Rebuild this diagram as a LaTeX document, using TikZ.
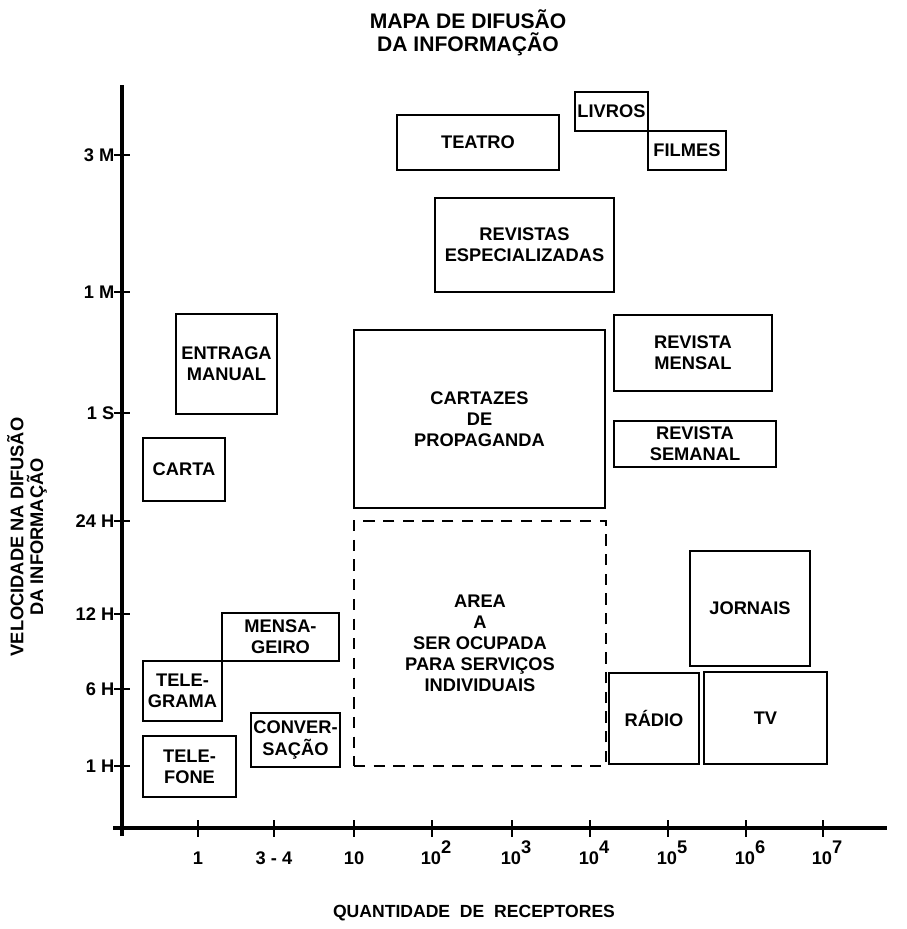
\documentclass[tikz,border=0pt]{standalone}
\usepackage{fontspec}
\setmainfont{Liberation Sans}
\usepackage{tikz}
\usetikzlibrary{positioning}

\begin{document}
\begin{tikzpicture}[
          x=0.025cm, y=-0.025cm,
          medium/.style={draw, line width=1.8pt, inner sep=0pt, align=center,
                         font=\fontsize{13}{15}\selectfont\bfseries},
          sized/.style 2 args={minimum width=#1*0.025cm, minimum height=#2*0.025cm},
          reserved/.style={medium, dash pattern=on 8pt off 6pt},
          axis/.style={line width=2.4pt},
          tickmark/.style={line width=1.8pt},
          ticklab/.style={font=\fontsize{13}{14}\selectfont\bfseries}
        ]
        \useasboundingbox (0,0) rectangle (907,929);

        \node[font=\fontsize{15}{16.5}\selectfont\bfseries, align=center] (title) at (468,33)
              {MAPA DE DIFUSÃO\\DA INFORMAÇÃO};

        % axes
        \coordinate (ytop) at (122,85);
        \coordinate (ybot) at (122,836);
        \coordinate (xbeg) at (113,828);
        \coordinate (xend) at (887,828);
        \draw[axis] (ybot) -- (ytop);
        \draw[axis] (xbeg) -- (xend);

        % speed ticks
        \foreach \y/\lab in {155/3 M, 292/1 M, 413/1 S, 521/24 H,
                             614/12 H, 689/6 H, 766/1 H}{
          \draw[tickmark] (114,\y) -- (130,\y);
          \node[ticklab, anchor=east, inner sep=1pt] (ylab\y) at (116,\y) {\lab};
        }

        % audience ticks
        \foreach \x/\lab in {198/1, 274/3 - 4, 354/10}{
          \draw[tickmark] (\x,820) -- (\x,837);
          \node[ticklab, anchor=base] (xlab\x) at (\x,864) {\lab};
        }
        \foreach \x/\p in {432/2, 512/3, 590/4, 668/5, 746/6, 823/7}{
          \draw[tickmark] (\x,820) -- (\x,837);
          \node[ticklab, anchor=base] (xlab\x) at (\x+4,864)
                {10\raisebox{1.1ex}{\p}};
        }

        \node[ticklab, rotate=90, align=center] (ylabel) at (27,537)
              {VELOCIDADE NA DIFUSÃO\\DA INFORMAÇÃO};
        \node[ticklab, font=\fontsize{12.5}{14}\selectfont\bfseries] (xlabel) at (474,913)
              {QUANTIDADE\ \ DE\ \ RECEPTORES};

        % media
        \node[medium, sized={162}{55}] (teatro) at (478,142.5) {TEATRO};
        \node[medium, sized={73}{39}] (livros) at (611.5,111.5) {LIVROS};
        \node[medium, sized={78}{39}] (filmes) at (687,150.5) {FILMES};
        \node[medium, sized={179}{94}] (especial) at (524.5,245)
              {REVISTAS\\ESPECIALIZADAS};
        \node[medium, sized={101}{100}] (entrega) at (226.5,364) {ENTRAGA\\MANUAL};
        \node[medium, sized={82}{63}] (carta) at (184,469.5) {CARTA};
        \node[medium, sized={251}{178}] (cartazes) at (479.5,419)
              {CARTAZES\\DE\\PROPAGANDA};
        \node[medium, sized={158}{76}] (mensal) at (693,353) {REVISTA\\MENSAL};
        \node[medium, sized={162}{46}] (semanal) at (695,444) {REVISTA\\SEMANAL};
        \node[reserved, sized={252}{245}] (area) at (480,643.5)
              {AREA\\A\\SER OCUPADA\\PARA SERVIÇOS\\INDIVIDUAIS};
        \node[medium, sized={120}{115}] (jornais) at (750,608.5) {JORNAIS};
        \node[medium, sized={90}{91}] (radio) at (654,718.5) {RÁDIO};
        \node[medium, sized={123}{92}] (tv) at (765.5,718) {TV};
        \node[medium, sized={117}{48}] (mensageiro) at (280.5,637) {MENSA-\\GEIRO};
        \node[medium, sized={79}{60}] (telegrama) at (182.5,691) {TELE-\\GRAMA};
        \node[medium, sized={93}{61}] (telefone) at (189.5,766.5) {TELE-\\FONE};
        \node[medium, sized={89}{54}] (conversa) at (295.5,740) {CONVER-\\SAÇÃO};
      \end{tikzpicture}
\end{document}
